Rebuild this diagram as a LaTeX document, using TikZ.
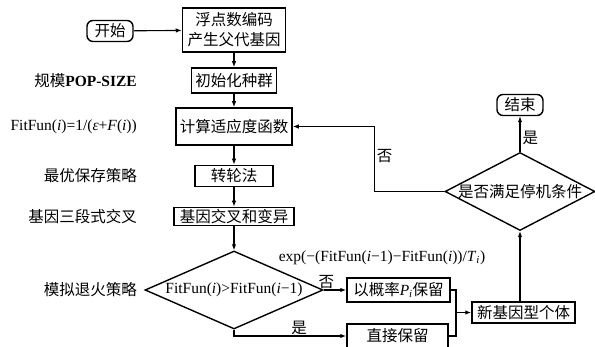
\documentclass[tikz,border=0pt]{standalone}
\usepackage{fontspec}
\setmainfont{Liberation Serif}
\newfontfamily\cjk{Noto Sans CJK SC}
\usetikzlibrary{shapes.geometric, arrows.meta}
\newcommand{\zh}[1]{{\cjk #1}}

\begin{document}
\begin{tikzpicture}[x=1pt, y=-1pt, font=\fontsize{15.5}{20}\selectfont,
    box/.style={draw, line width=1.5pt, inner sep=0pt},
    term/.style={draw, line width=1.4pt, rounded corners=6pt, inner sep=0pt, minimum width=46pt, minimum height=21pt},
    decision/.style={draw, diamond, line width=1.4pt, inner sep=0pt},
    wire/.style={line width=1.1pt},
    arr/.style={line width=1.1pt, -{Latex[length=6pt, width=4.5pt]}}]
    \useasboundingbox (0,0) rectangle (595,347);
    \clip (0,0) rectangle (595,347);

    % main column
    \node[term] (start) at (110,31) {\zh{开始}};
    \node[box, minimum width=103pt, minimum height=44pt, align=center] (code) at (234,30) {\zh{浮点数编码}\\\zh{产生父代基因}};
    \node[box, minimum width=85pt, minimum height=25pt] (init) at (234,80.5) {\zh{初始化种群}};
    \node[box, minimum width=116pt, minimum height=37pt] (fit) at (234,126.5) {\zh{计算适应度函数}};
    \node[box, minimum width=78pt, minimum height=21pt] (roul) at (234,176) {\zh{转轮法}};
    \node[box, minimum width=120pt, minimum height=18pt] (cross) at (234,216.5) {\zh{基因交叉和变异}};
    \node[decision, minimum width=178pt, minimum height=78pt] (judge) at (234,290) {\makebox[0pt]{FitFun(\textit{i})>FitFun(\textit{i}−1)}};

    % side notes
    \node[anchor=east, inner sep=0pt] (popsize) at (137,81) {\zh{规模}\textbf{POP-SIZE}};
    \node[anchor=east, inner sep=0pt] (fitdef) at (137,126.5) {FitFun(\textit{i})=1/(\textit{ε}+\textit{F}(\textit{i}))};
    \node[anchor=east, inner sep=0pt] (elite) at (137,176) {\zh{最优保存策略}};
    \node[anchor=east, inner sep=0pt] (three) at (137,216.5) {\zh{基因三段式交叉}};
    \node[anchor=east, inner sep=0pt] (anneal) at (137,290) {\zh{模拟退火策略}};

    % right part
    \node[box, minimum width=103pt, minimum height=24pt] (keep) at (398.5,290) {\zh{以概率}\textit{P}\textsubscript{\textit{i}}\zh{保留}};
    \node[box, minimum width=101pt, minimum height=24pt] (direct) at (397.5,336) {\zh{直接保留}};
    \node[box, minimum width=103pt, minimum height=21pt] (new) at (523.5,312.5) {\zh{新基因型个体}};
    \node[decision, minimum width=150pt, minimum height=78pt] (stop) at (520,191.5) {\makebox[0pt]{\zh{是否满足停机条件}}};
    \node[term] (end) at (520,105) {\zh{结束}};
    \node[inner sep=0pt] (prob) at (382,258) {exp(−(FitFun(\textit{i}−1)−FitFun(\textit{i}))/\textit{T}\textsubscript{\textit{i}})};
    \coordinate (merge) at (456,312.5);

    % connectors
    \draw[arr] (start) -- (code);
    \draw[arr] (code) -- (init);
    \draw[arr] (init) -- (fit);
    \draw[arr] (fit) -- (roul);
    \draw[arr] (roul) -- (cross);
    \draw[arr] (cross) -- (judge);
    \draw[arr] (judge.east) -- node[above, pos=0.12, inner sep=1pt] {\zh{否}} (keep.west);
    \draw[arr] (judge.south) |- node[above, pos=0.79, inner sep=1pt] {\zh{是}} (direct.west);
    \draw[wire] (keep.east) -| (merge) |- (direct.east);
    \draw[arr] (merge) -- (new);
    \draw[arr] (new.north -| stop.south) -- (stop.south);
    \draw[arr] (stop.north) -- node[right, pos=0.4, inner sep=2pt] {\zh{是}} (end.south);
    \draw[arr] (stop.west) -- ++(-70,0) |- node[right, pos=0.27, inner sep=2pt] {\zh{否}} (fit.east);
\end{tikzpicture}
\end{document}
